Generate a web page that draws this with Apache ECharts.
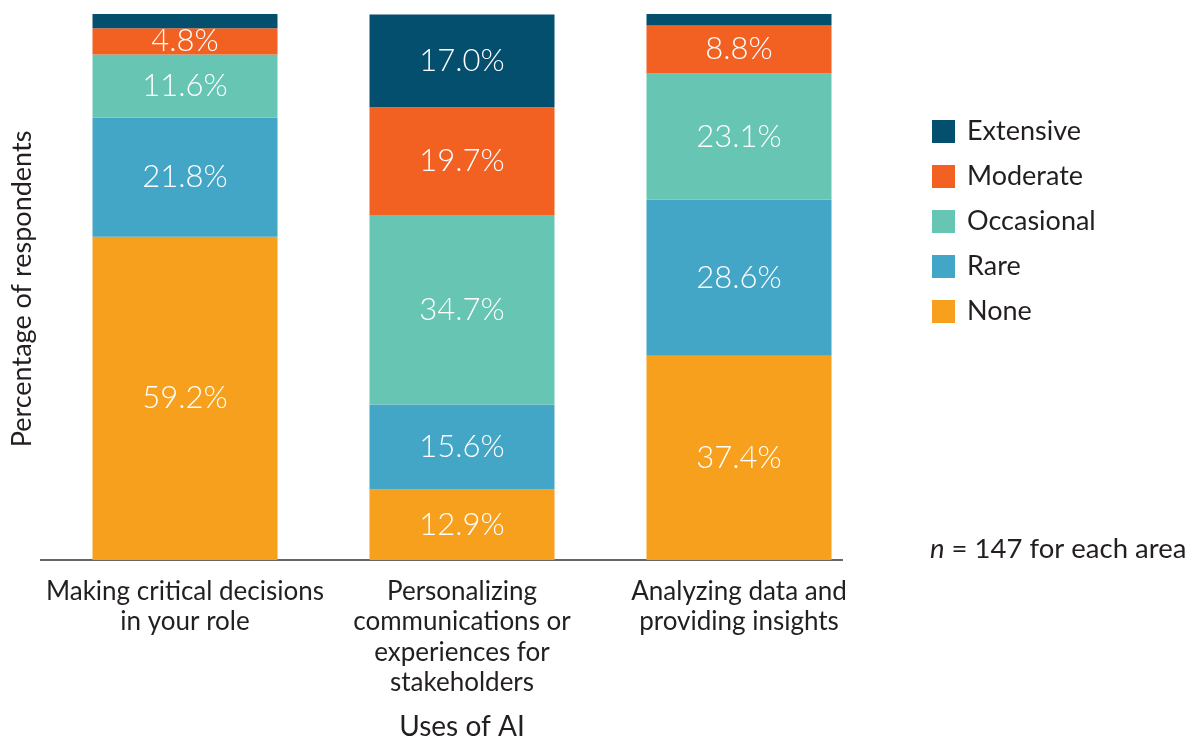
<!DOCTYPE html>
<html>
<head>
<meta charset="utf-8">
<script src="https://cdn.jsdelivr.net/npm/echarts@6/dist/echarts.min.js"></script>
<style>
  html, body { margin: 0; padding: 0; background: #fff; }
  #chart { width: 1196px; height: 742px; }
</style>
</head>
<body>
<div id="chart"></div>
<script>
// categories on the x axis
var categories = [
    'Making critical decisions\nin your role',
    'Personalizing\ncommunications or\nexperiences for\nstakeholders',
    'Analyzing data and\nproviding insights'
];
// percentage of respondents per level
var noneData = [59.2, 12.9, 37.4];
var rareData = [21.8, 15.6, 28.6];
var occasionalData = [11.6, 34.7, 23.1];
var moderateData = [4.8, 19.7, 8.8];
var extensiveData = [2.6, 17.0, 2.1];

var levels = ['None', 'Rare', 'Occasional', 'Moderate', 'Extensive'];
var colors = ['#f6a01e', '#43a6c6', '#67c6b3', '#f26122', '#054f6e'];
var allData = [noneData, rareData, occasionalData, moderateData, extensiveData];

var textColor = '#231f20';
var font = 'Lato';

var myChart = echarts.init(document.getElementById('chart'));

var series = [];
for (var i = 0; i < levels.length; i++) {
    series.push({
        name: levels[i],
        type: 'bar',
        stack: 'total',
        barWidth: 185,
        data: allData[i],
        itemStyle: { color: colors[i] },
        label: {
            show: true,
            position: 'inside',
            color: '#fff',
            fontFamily: font,
            fontWeight: 300,
            fontSize: 31,
            formatter: function(p) {
                // thin slivers have no label in the original
                return p.value < 3 ? '' : p.value.toFixed(1) + '%';
            }
        }
    });
}

var option = {
    animation: false,
    textStyle: { fontFamily: font },
    grid: { left: 46.5, width: 831, top: 14, bottom: 182 },
    legend: {
        orient: 'vertical',
        left: 927,
        top: 113,
        icon: 'rect',
        itemWidth: 23,
        itemHeight: 23,
        itemGap: 18,
        data: ['Extensive', 'Moderate', 'Occasional', 'Rare', 'None'],
        textStyle: { fontFamily: font, fontSize: 27, lineHeight: 27, color: textColor, padding: [0, 0, 0, 7] }
    },
    xAxis: {
        type: 'category',
        data: categories,
        axisLine: { show: false },
        axisTick: { show: false },
        axisLabel: {
            margin: 16,
            interval: 0,
            fontFamily: font,
            fontSize: 26,
            color: textColor,
            lineHeight: 30.5
        }
    },
    yAxis: {
        type: 'value',
        min: 0,
        max: 100,
        show: false
    },
    graphic: [
        {
            type: 'line',
            shape: { x1: 40, y1: 560, x2: 843, y2: 560 },
            style: { stroke: '#333', lineWidth: 1.5 }
        },
        {
            type: 'text',
            x: 22,
            y: 289,
            rotation: Math.PI / 2,
            style: {
                text: 'Percentage of respondents',
                fontFamily: font,
                fontSize: 27,
                fill: textColor,
                align: 'center',
                verticalAlign: 'middle'
            }
        },
        {
            type: 'text',
            x: 462,
            y: 727,
            style: {
                text: 'Uses of AI',
                fontFamily: font,
                fontSize: 28,
                fill: textColor,
                align: 'center',
                verticalAlign: 'middle'
            }
        },
        {
            type: 'text',
            x: 930,
            y: 549,
            style: {
                text: '{i|n} = 147 for each area',
                fontFamily: font,
                fontSize: 27.5,
                fill: textColor,
                verticalAlign: 'middle',
                rich: {
                    i: { fontStyle: 'italic', fontFamily: font, fontSize: 27.5, fill: textColor }
                }
            }
        }
    ],
    series: series
};

myChart.setOption(option);
</script>
</body>
</html>
